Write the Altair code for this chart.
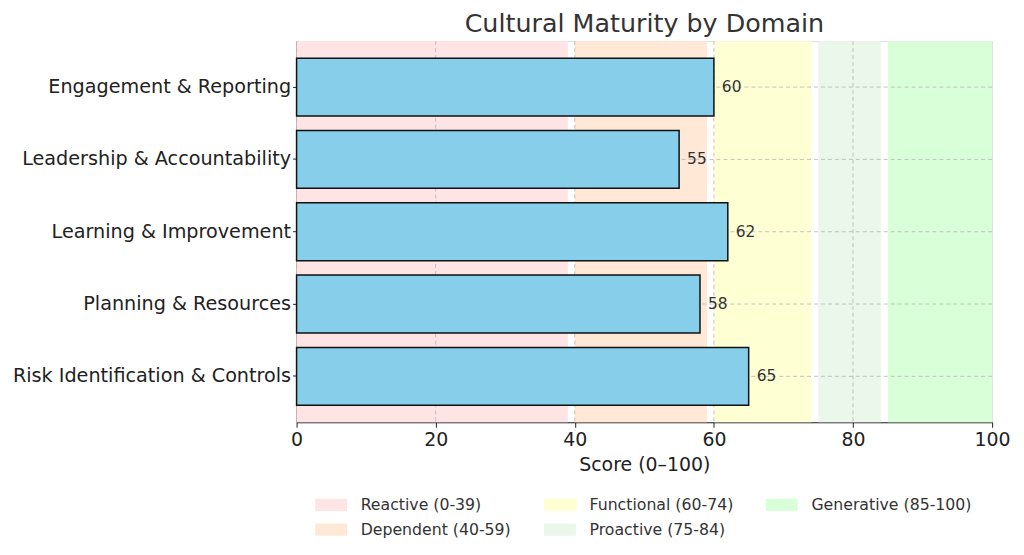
import altair as alt
import pandas as pd

domains = [
    "Engagement & Reporting",
    "Leadership & Accountability",
    "Learning & Improvement",
    "Planning & Resources",
    "Risk Identification & Controls",
]
scores = [60, 55, 62, 58, 65]

band_names = ["Reactive (0-39)", "Dependent (40-59)", "Functional (60-74)",
              "Proactive (75-84)", "Generative (85-100)"]
band_start = [0, 40, 60, 75, 85]
band_end = [39, 59, 74, 84, 100]
band_colors = ["#ffe4e6", "#ffe9d6", "#ffffd4", "#ebf7eb", "#d9ffd9"]

x_ticks = [0, 20, 40, 60, 80, 100]
grid_ticks = [0, 20, 40, 60, 80]

FONT = "DejaVu Sans"

bars_df = pd.DataFrame({"domain": domains, "score": scores})
bands_df = pd.DataFrame({"band": band_names, "start": band_start, "end": band_end})
grid_df = pd.DataFrame({"tick": grid_ticks})

x_scale = alt.Scale(domain=[0, 100], nice=False)
y_enc = alt.Y("domain:N", sort=domains,
              scale=alt.Scale(paddingInner=0.2, paddingOuter=0.235),
              axis=alt.Axis(title=None, labelFontSize=19.3, labelFont=FONT,
                            labelColor="#222222", labelLimit=400,
                            tickSize=4, tickColor="#222222", labelPadding=2,
                            domainColor="#222222", grid=False))

bands = alt.Chart(bands_df).mark_rect().encode(
    x=alt.X("start:Q", scale=x_scale,
            axis=alt.Axis(values=x_ticks, title="Score (0–100)", grid=False,
                          labelFontSize=19, labelFont=FONT, labelColor="#222222",
                          titleFontSize=19, titleFont=FONT, titleFontWeight="normal",
                          titleColor="#222222", tickSize=5, tickColor="#222222",
                          domainColor="#222222", labelPadding=3, titlePadding=6,
                          labelFlush=False)),
    x2="end:Q",
    color=alt.Color("band:N",
                    scale=alt.Scale(domain=band_names, range=band_colors),
                    legend=alt.Legend(title=None, orient="none", legendX=17,
                                      legendY=458, columns=3, columnPadding=31,
                                      rowPadding=8,
                                      symbolType="M-1,-1h5.16v2h-5.16Z",
                                      symbolSize=154, symbolStrokeWidth=0,
                                      labelOffset=31.6, labelFontSize=15.8,
                                      labelFont=FONT, labelColor="#333333",
                                      labelLimit=300)),
)

vgrid = alt.Chart(grid_df).mark_rule(
    strokeDash=[4, 3], color="#b5b5b5", strokeWidth=0.8
).encode(x=alt.X("tick:Q", scale=x_scale))

hgrid = alt.Chart(bars_df).mark_rule(
    strokeDash=[4, 3], color="#b5b5b5", strokeWidth=0.8
).encode(y=y_enc)

bars = alt.Chart(bars_df).mark_bar(
    color="#87ceeb", stroke="#111111", strokeWidth=1.5
).encode(
    y=y_enc,
    x=alt.X("score:Q", scale=x_scale),
)

labels = alt.Chart(bars_df).mark_text(
    align="left", baseline="middle", dx=8, fontSize=15.5, font=FONT, color="#333333"
).encode(
    y=y_enc,
    x=alt.X("score:Q", scale=x_scale),
    text=alt.Text("score:Q"),
)

chart = alt.layer(bands, vgrid, hgrid, bars, labels).properties(
    width=699,
    height=383,
    title=alt.TitleParams("Cultural Maturity by Domain", fontSize=25.5, font=FONT,
                          fontWeight="normal", color="#333333", anchor="middle",
                          offset=3),
).configure_view(stroke=None).configure(padding={"left": 4, "top": 3, "right": 5, "bottom": 2})

chart.save("out.html", embed_options={"renderer": "svg", "actions": False})
